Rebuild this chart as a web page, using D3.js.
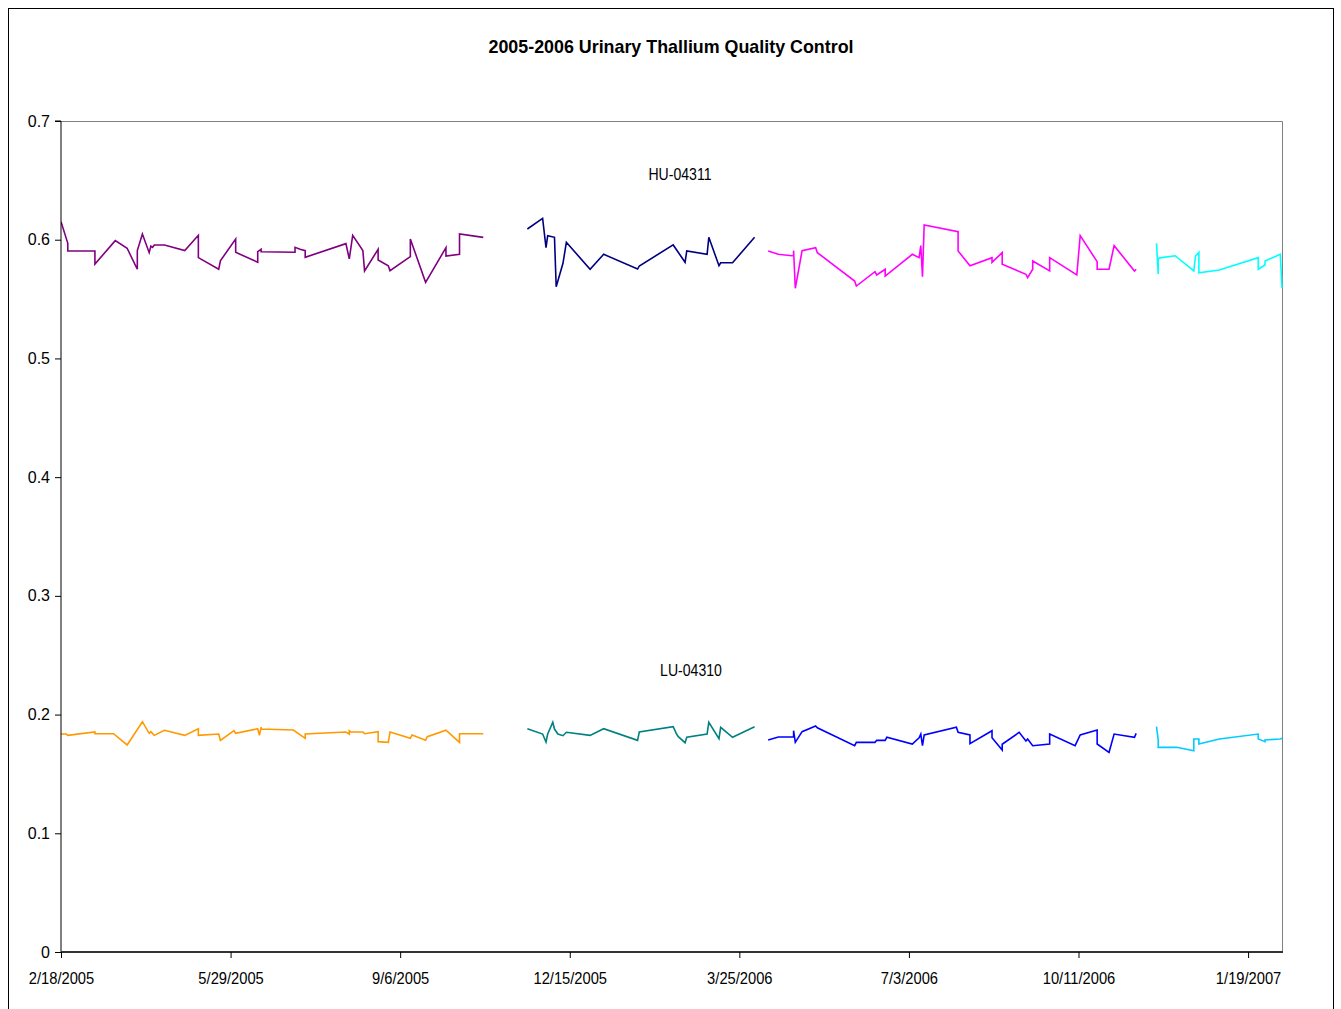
<!DOCTYPE html>
<html><head><meta charset="utf-8">
<script src="https://cdn.jsdelivr.net/npm/d3@7"></script>
<style>
html,body{margin:0;padding:0;background:#fff;}
svg{display:block;}
text{font-family:"Liberation Sans",Arial,sans-serif;}
</style></head>
<body>
<svg id="chart" width="1341" height="1009"></svg>
<script>
// ---- data (x = days since 2/18/2005, y = measured concentration) ----
const chartTitle = "2005-2006 Urinary Thallium Quality Control";
const startDate = [2005, 1, 18];
const xEndDay = 720;
const xTickDays = [0, 100, 200, 300, 400, 500, 600, 700];
const xTickLabels = ["2/18/2005","5/29/2005","9/6/2005","12/15/2005","3/25/2006","7/3/2006","10/11/2006","1/19/2007"];
const yTickValues = [0, 0.1, 0.2, 0.3, 0.4, 0.5, 0.6, 0.7];
const yTickLabels = ["0","0.1","0.2","0.3","0.4","0.5","0.6","0.7"];
const seriesLabels = ["HU-04311", "LU-04310"];

const hu1 = [[0,0.6152],[4,0.5970],[4,0.5905],[20,0.5905],[20,0.5795],[32,0.5992],[39,0.5928],[45,0.5751],[45,0.5908],[48,0.6048],[52,0.5891],[53,0.5947],[54,0.5936],[55,0.5956],[61,0.5956],[73,0.5908],[81,0.6037],[81,0.5849],[93,0.5751],[94,0.5823],[103,0.6006],[103,0.5894],[116,0.5810],[116,0.5899],[118,0.5919],[118,0.5899],[138,0.5894],[138,0.5936],[141,0.5919],[144,0.5908],[144,0.5852],[168,0.5967],[170,0.5838],[172,0.6037],[178,0.5908],[179,0.5737],[187,0.5919],[187,0.5829],[193,0.5781],[194,0.5739],[206,0.5857],[206,0.6006],[215,0.5641],[227,0.5933],[227,0.5863],[235,0.5877],[235,0.6048],[249,0.6020]];
const hu2 = [[275,0.6090],[284,0.6180],[286,0.5933],[287,0.6034],[291,0.6020],[292,0.5604],[296,0.5801],[298,0.5978],[312,0.5751],[320,0.5877],[340,0.5753],[341,0.5779],[361,0.5956],[368,0.5810],[369,0.5905],[381,0.5877],[382,0.6020],[388,0.5781],[389,0.5806],[396,0.5806],[409,0.6020]];
const hu3 = [[417,0.5905],[423,0.5877],[432,0.5863],[432,0.5908],[433,0.5591],[437,0.5908],[445,0.5933],[446,0.5891],[468,0.5652],[469,0.5610],[480,0.5731],[481,0.5703],[486,0.5751],[486,0.5694],[502,0.5877],[506,0.5849],[507,0.5950],[508,0.5689],[509,0.6124],[529,0.6068],[529,0.5905],[536,0.5781],[549,0.5849],[549,0.5810],[555,0.5891],[555,0.5793],[569,0.5709],[570,0.5680],[573,0.5751],[573,0.5821],[583,0.5737],[583,0.5849],[599,0.5703],[601,0.6034],[611,0.5815],[611,0.5751],[618,0.5751],[621,0.5950],[633,0.5737],[634,0.5751]];
const hu4 = [[646,0.5970],[647,0.5711],[647,0.5843],[649,0.5849],[657,0.5865],[668,0.5737],[669,0.5863],[671,0.5894],[671,0.5722],[683,0.5745],[706,0.5849],[706,0.5751],[710,0.5787],[710,0.5821],[719,0.5877],[720,0.5593]];

const lu1 = [[0,0.1836],[3,0.1836],[4,0.1825],[20,0.1853],[20,0.1839],[31,0.1839],[39,0.1744],[48,0.1940],[52,0.1842],[53,0.1856],[55,0.1825],[61,0.1868],[73,0.1825],[81,0.1881],[81,0.1825],[93,0.1836],[94,0.1783],[102,0.1864],[103,0.1842],[116,0.1881],[117,0.1825],[118,0.1895],[118,0.1878],[137,0.1870],[144,0.1800],[144,0.1836],[168,0.1853],[170,0.1836],[170,0.1864],[171,0.1853],[178,0.1853],[179,0.1839],[187,0.1856],[187,0.1772],[193,0.1766],[194,0.1853],[206,0.1800],[207,0.1828],[215,0.1783],[216,0.1814],[227,0.1868],[235,0.1766],[235,0.1839],[249,0.1839]];
const lu2 = [[275,0.1881],[284,0.1836],[286,0.1769],[287,0.1836],[290,0.1935],[291,0.1878],[293,0.1836],[296,0.1822],[298,0.1851],[312,0.1825],[320,0.1881],[340,0.1783],[341,0.1853],[361,0.1898],[363,0.1836],[364,0.1814],[368,0.1763],[369,0.1809],[381,0.1836],[382,0.1935],[388,0.1797],[389,0.1893],[396,0.1809],[409,0.1898]];
const lu3 = [[417,0.1786],[423,0.1811],[432,0.1811],[432,0.1864],[433,0.1766],[437,0.1856],[445,0.1904],[446,0.1889],[468,0.1738],[469,0.1766],[480,0.1766],[481,0.1783],[486,0.1783],[487,0.1809],[502,0.1752],[506,0.1805],[507,0.1836],[508,0.1738],[509,0.1828],[528,0.1893],[529,0.1851],[536,0.1828],[536,0.1755],[549,0.1864],[549,0.1805],[555,0.1702],[555,0.1750],[565,0.1850],[569,0.1777],[570,0.1794],[573,0.1738],[583,0.1752],[583,0.1836],[598,0.1738],[601,0.1828],[611,0.1870],[611,0.1752],[618,0.1682],[621,0.1836],[633,0.1809],[634,0.1842]];
const lu4 = [[646,0.1898],[647,0.1786],[647,0.1724],[658,0.1724],[668,0.1696],[668,0.1794],[671,0.1794],[671,0.1752],[683,0.1794],[706,0.1836],[706,0.1794],[710,0.1772],[710,0.1786],[719,0.1794],[720,0.1800]];

const seriesList = [hu1, hu2, hu3, hu4, lu1, lu2, lu3, lu4];
const seriesColors = ["#800080","#000080","#FF00FF","#00FFFF","#FF9900","#008080","#0000FF","#00CCFF"];

// ---- drawing ----
const svg = d3.select("#chart");
const m = {left: 61, top: 121, right: 1282, bottom: 952};
const t0 = new Date(Date.UTC(startDate[0], startDate[1], startDate[2]));
const dayToDate = d => d3.utcDay.offset(t0, Math.floor(d));

const x = d3.scaleUtc().domain([t0, dayToDate(xEndDay)]).range([m.left, m.right]);
const y = d3.scaleLinear().domain([0, 0.7]).range([m.bottom, m.top]);

// outer frame
svg.append("rect").attr("x", 8.5).attr("y", 8.5).attr("width", 1325).attr("height", 1010)
  .attr("fill", "#fff").attr("stroke", "#000").attr("stroke-width", 1);

// plot area border (gray top/right)
svg.append("path")
  .attr("d", `M${m.left},${m.top + 0.5}H${m.right + 0.5}V${m.bottom}`)
  .attr("fill", "none").attr("stroke", "#808080").attr("stroke-width", 1);

// title
svg.append("text").attr("x", 671).attr("y", 53).attr("text-anchor", "middle")
  .attr("font-size", 19).attr("font-weight", "bold").attr("fill", "#000")
  .attr("textLength", 365).attr("lengthAdjust", "spacingAndGlyphs")
  .text(chartTitle);

// clip
svg.append("clipPath").attr("id", "clip").append("rect")
  .attr("x", m.left).attr("y", m.top).attr("width", m.right - m.left + 1).attr("height", m.bottom - m.top);

// lines
const line = d3.line().x(d => x(dayToDate(d[0]))).y(d => y(d[1]));
const lg = svg.append("g").attr("clip-path", "url(#clip)");
seriesList.forEach((s, i) => {
  lg.append("path").datum(s).attr("d", line)
    .attr("fill", "none").attr("stroke", seriesColors[i]).attr("stroke-width", 1.6)
    .attr("stroke-linejoin", "miter");
});

// y axis
const yAxis = d3.axisLeft(y).tickValues(yTickValues).tickSize(6).tickPadding(5)
  .tickFormat((d, i) => yTickLabels[i]);
const yg = svg.append("g").attr("transform", `translate(${m.left},0)`).call(yAxis);
yg.select(".domain").attr("stroke", "#000").attr("d", `M-6,${m.top}H0V${m.bottom}`);
yg.selectAll(".tick line").attr("stroke", "#000");
yg.selectAll(".tick text").attr("font-size", 16).attr("fill", "#000")
  .attr("font-family", '"Liberation Sans",Arial,sans-serif')
  .attr("dy", "0.32em");

// x axis
const xAxis = d3.axisBottom(x).tickValues(xTickDays.map(dayToDate)).tickSize(6).tickPadding(15)
  .tickFormat((d, i) => xTickLabels[i]);
const xg = svg.append("g").attr("transform", `translate(0,${m.bottom})`).call(xAxis);
xg.select(".domain").attr("stroke", "#333").attr("stroke-width", 2).attr("d", `M${m.left},0H${m.right + 1}`);
xg.selectAll(".tick line").attr("stroke", "#000");
xg.selectAll(".tick text").attr("font-size", 16).attr("fill", "#000")
  .attr("font-family", '"Liberation Sans",Arial,sans-serif')
  .attr("transform", "scale(0.92,1)");

// series labels
svg.append("text").attr("x", 680).attr("y", 180).attr("text-anchor", "middle")
  .attr("font-size", 16).attr("fill", "#000").attr("transform", "translate(680,0) scale(0.88,1) translate(-680,0)")
  .text(seriesLabels[0]);
svg.append("text").attr("x", 691).attr("y", 676).attr("text-anchor", "middle")
  .attr("font-size", 16).attr("fill", "#000").attr("transform", "translate(691,0) scale(0.88,1) translate(-691,0)")
  .text(seriesLabels[1]);
</script>
</body></html>
